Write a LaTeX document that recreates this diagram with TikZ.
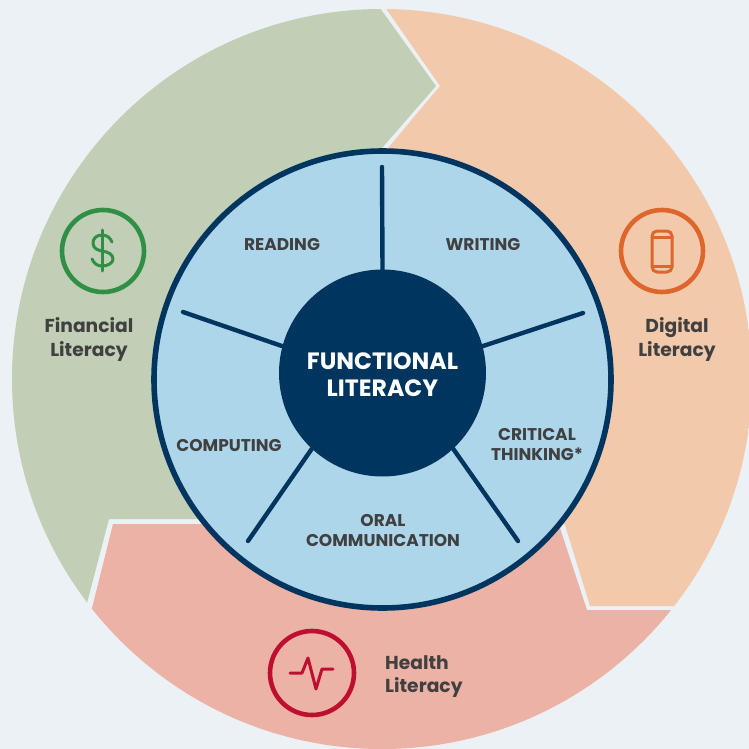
\documentclass[tikz,border=0pt]{standalone}
\usepackage{fontspec}
\setmainfont{Poppins}
\definecolor{bgtone}{HTML}{ECF1F5}
\definecolor{greenzone}{HTML}{C0CFB5}
\definecolor{peachzone}{HTML}{F3C9AC}
\definecolor{salmonzone}{HTML}{EBB2A5}
\definecolor{skyzone}{HTML}{AED6EB}
\definecolor{navytone}{HTML}{003560}
\definecolor{labeltone}{HTML}{404040}
\definecolor{greenicon}{HTML}{318F45}
\definecolor{orangeicon}{HTML}{DC662B}
\definecolor{redicon}{HTML}{BE0F31}
\tikzset{spoke/.style = {draw = navytone, line width = 4.4pt, line cap = round}}
\tikzset{skill/.style = {text = labeltone, align = center, inner sep = 0,
                         font = \fontsize{17}{20}\selectfont\bfseries}}
\tikzset{area/.style = {text = labeltone, align = center, inner sep = 0,
                        font = \fontsize{18.7}{23.5}\selectfont\bfseries}}
\tikzset{badge/.style = {draw = #1, circle, inner sep = 0, minimum size = 82pt,
                         line width = 4.6pt}}
\tikzset{glyph/.style = {draw = #1, line width = 3pt, line cap = round,
                         line join = round}}

\begin{document}
\begin{tikzpicture}[x = 1pt, y = -1pt]
    \useasboundingbox [fill = bgtone] (0, 0) rectangle (749, 749);
    \begin{scope}
      \clip (382, 379) circle [radius = 370];
      \fill [greenzone] (367, -10) -- (436, 86) -- (382, 148) -- (382, 379)
        -- (200, 519) -- (109, 519) -- (87, 603) -- (70, 668) -- (-10, 700)
        -- (-10, -10) -- cycle;
      \fill [peachzone] (373, -10) -- (440, 86) -- (388, 148) -- (382, 379)
        -- (565, 525) -- (590, 606) -- (760, 606) -- (760, -10) -- cycle;
      \fill [salmonzone] (113, 524) -- (92, 608) -- (75, 673) -- (75, 760)
        -- (760, 760) -- (760, 610) -- (587, 610) -- (560, 528)
        -- (382, 379) -- (300, 524) -- cycle;
    \end{scope}
    \node (wheel) [circle, draw = navytone, fill = skyzone, line width = 5.6pt,
                   inner sep = 0, minimum size = 457pt] at (382.5, 379.5) {};
    \node (hub) [circle, fill = navytone, inner sep = 0, minimum size = 207pt] at (382.5, 373) {};
    \node (hubtext) [text = white, align = center, inner sep = 0,
                     font = \fontsize{23.6}{27}\selectfont\bfseries] at (382.5, 375)
      {FUNCTIONAL\\LITERACY};
    \coordinate (spokeA) at (382, 167);
    \coordinate (spokeB) at (583, 313);
    \coordinate (spokeC) at (518, 541);
    \coordinate (spokeD) at (248, 541);
    \coordinate (spokeE) at (183, 312);
    \draw [spoke] (hub.north) -- (spokeA);
    \draw [spoke] (hub.15) -- (spokeB);
    \draw [spoke] (hub.-47) -- (spokeC);
    \draw [spoke] (hub.-133) -- (spokeD);
    \draw [spoke] (hub.165) -- (spokeE);
    \node (reading) [skill] at (282, 245) {READING};
    \node (writing) [skill] at (483, 245) {WRITING};
    \node (critical) [skill] at (537, 445) {CRITICAL\\THINKING*};
    \node (oral) [skill] at (383, 530.5) {ORAL\\COMMUNICATION};
    \node (computing) [skill] at (229, 446) {COMPUTING};
    \node (financial) [area] at (89, 339.5) {Financial\\Literacy};
    \node (digital) [area] at (677, 339.5) {Digital\\Literacy};
    \node (health) [area, align = left, anchor = west] at (385, 676.5) {Health\\Literacy};
    \node (dollar) [badge = greenicon] at (103, 251) {};
    \node (phone) [badge = orangeicon] at (662, 251) {};
    \node (pulse) [badge = redicon, minimum size = 84pt] at (312, 673) {};
    \draw [glyph = greenicon] (102, 230) -- (102, 271);
    \draw [glyph = greenicon] (112, 242) .. controls (110, 237) and (106, 235) .. (102, 235)
      .. controls (96, 235) and (93, 239) .. (93, 243)
      .. controls (93, 249) and (98, 250) .. (102, 251)
      .. controls (108, 252) and (113, 254) .. (113, 259)
      .. controls (113, 263) and (108, 266) .. (102, 266)
      .. controls (98, 266) and (94, 264) .. (92, 259);
    \draw [glyph = orangeicon, rounded corners = 5pt] (652, 231) rectangle (672, 272);
    \draw [glyph = orangeicon] (652, 237) -- (672, 237);
    \draw [glyph = orangeicon] (652, 266) -- (672, 266);
    \draw [glyph = redicon] (290, 673) -- (302, 673) -- (308, 658) -- (316, 689)
      -- (322, 669) -- (333, 669);
  \end{tikzpicture}
\end{document}
